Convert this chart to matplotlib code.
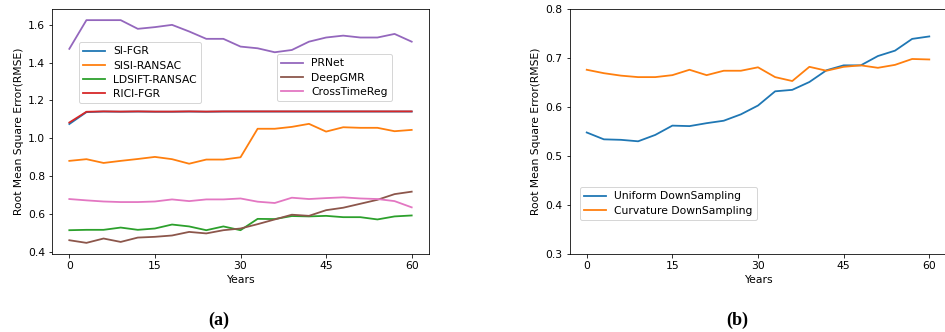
import matplotlib.pyplot as plt

# --- data ---
years = list(range(0, 61, 3))

si_fgr = [1.075, 1.138, 1.141, 1.140, 1.141, 1.140, 1.140, 1.141, 1.140, 1.141, 1.141,
          1.141, 1.141, 1.141, 1.141, 1.141, 1.141, 1.141, 1.141, 1.141, 1.141]
rici_fgr = [1.083, 1.140, 1.142, 1.141, 1.142, 1.141, 1.141, 1.142, 1.141, 1.142, 1.142,
            1.142, 1.142, 1.142, 1.142, 1.142, 1.142, 1.142, 1.142, 1.142, 1.142]
sisi_ransac = [0.880, 0.889, 0.869, 0.880, 0.890, 0.901, 0.889, 0.865, 0.887, 0.887, 0.899,
               1.050, 1.050, 1.060, 1.076, 1.035, 1.058, 1.055, 1.055, 1.037, 1.044]
ldsift_ransac = [0.513, 0.515, 0.515, 0.527, 0.515, 0.522, 0.543, 0.533, 0.513, 0.533, 0.513,
                 0.573, 0.572, 0.588, 0.586, 0.589, 0.582, 0.582, 0.570, 0.586, 0.591]
prnet = [1.473, 1.625, 1.625, 1.625, 1.579, 1.588, 1.600, 1.565, 1.526, 1.526, 1.485,
         1.476, 1.455, 1.467, 1.511, 1.533, 1.543, 1.533, 1.533, 1.552, 1.511]
deepgmr = [0.460, 0.446, 0.469, 0.451, 0.474, 0.478, 0.485, 0.504, 0.496, 0.513, 0.522,
           0.545, 0.570, 0.595, 0.589, 0.619, 0.632, 0.653, 0.674, 0.704, 0.717]
crosstimereg = [0.678, 0.671, 0.665, 0.662, 0.662, 0.665, 0.676, 0.667, 0.676, 0.676, 0.681,
                0.664, 0.657, 0.685, 0.678, 0.683, 0.687, 0.681, 0.678, 0.667, 0.634]

uniform_ds = [0.548, 0.534, 0.533, 0.530, 0.543, 0.562, 0.561, 0.567, 0.572, 0.585, 0.603,
              0.632, 0.635, 0.651, 0.675, 0.685, 0.685, 0.704, 0.715, 0.739, 0.744]
curvature_ds = [0.676, 0.669, 0.664, 0.661, 0.661, 0.665, 0.676, 0.665, 0.674, 0.674, 0.681,
                0.661, 0.653, 0.682, 0.674, 0.682, 0.685, 0.680, 0.686, 0.698, 0.697]

xticks = [0, 15, 30, 45, 60]

plt.rcParams['lines.linewidth'] = 1.8
plt.rcParams['font.size'] = 10.7
plt.rcParams['legend.labelspacing'] = 0.4
plt.rcParams['legend.borderaxespad'] = 0.0

# --- figure ---
fig = plt.figure(figsize=(945 / 72, 332 / 72), dpi=72)
ax1 = fig.add_axes([52.2 / 945, 78 / 332, 376.6 / 945, 245 / 332])
ax2 = fig.add_axes([569.6 / 945, 78 / 332, 376.8 / 945, 245 / 332])

# left panel
l1, = ax1.plot(years, si_fgr, color='tab:blue', label='SI-FGR')
l2, = ax1.plot(years, sisi_ransac, color='tab:orange', label='SISI-RANSAC')
l3, = ax1.plot(years, ldsift_ransac, color='tab:green', label='LDSIFT-RANSAC')
l4, = ax1.plot(years, rici_fgr, color='tab:red', label='RICI-FGR')
l5, = ax1.plot(years, prnet, color='tab:purple', label='PRNet')
l6, = ax1.plot(years, deepgmr, color='tab:brown', label='DeepGMR')
l7, = ax1.plot(years, crosstimereg, color='tab:pink', label='CrossTimeReg')
ax1.set_xticks(xticks)
ax1.set_xlabel('Years')
ax1.set_ylabel('Root Mean Square Error(RMSE)')
leg1 = ax1.legend(handles=[l1, l2, l3, l4], loc='upper left', bbox_to_anchor=(0.071, 0.865))
ax1.add_artist(leg1)
ax1.legend(handles=[l5, l6, l7], loc='upper left', bbox_to_anchor=(0.597, 0.816))

# right panel
ax2.plot(years, uniform_ds, color='tab:blue', label='Uniform DownSampling')
ax2.plot(years, curvature_ds, color='tab:orange', label='Curvature DownSampling')
ax2.set_ylim(0.3, 0.8)
ax2.set_xticks(xticks)
ax2.set_xlabel('Years')
ax2.set_ylabel('Root Mean Square Error(RMSE)')
ax2.legend(loc='lower left', bbox_to_anchor=(0.028, 0.139))

# panel labels
fig.text(219 / 945, 1 - 320 / 332, '(a)', ha='center', va='center',
         fontsize=18, fontweight='bold', family='Liberation Serif')
fig.text(737 / 945, 1 - 320 / 332, '(b)', ha='center', va='center',
         fontsize=18, fontweight='bold', family='Liberation Serif')

fig.savefig('out.png', dpi=72)
